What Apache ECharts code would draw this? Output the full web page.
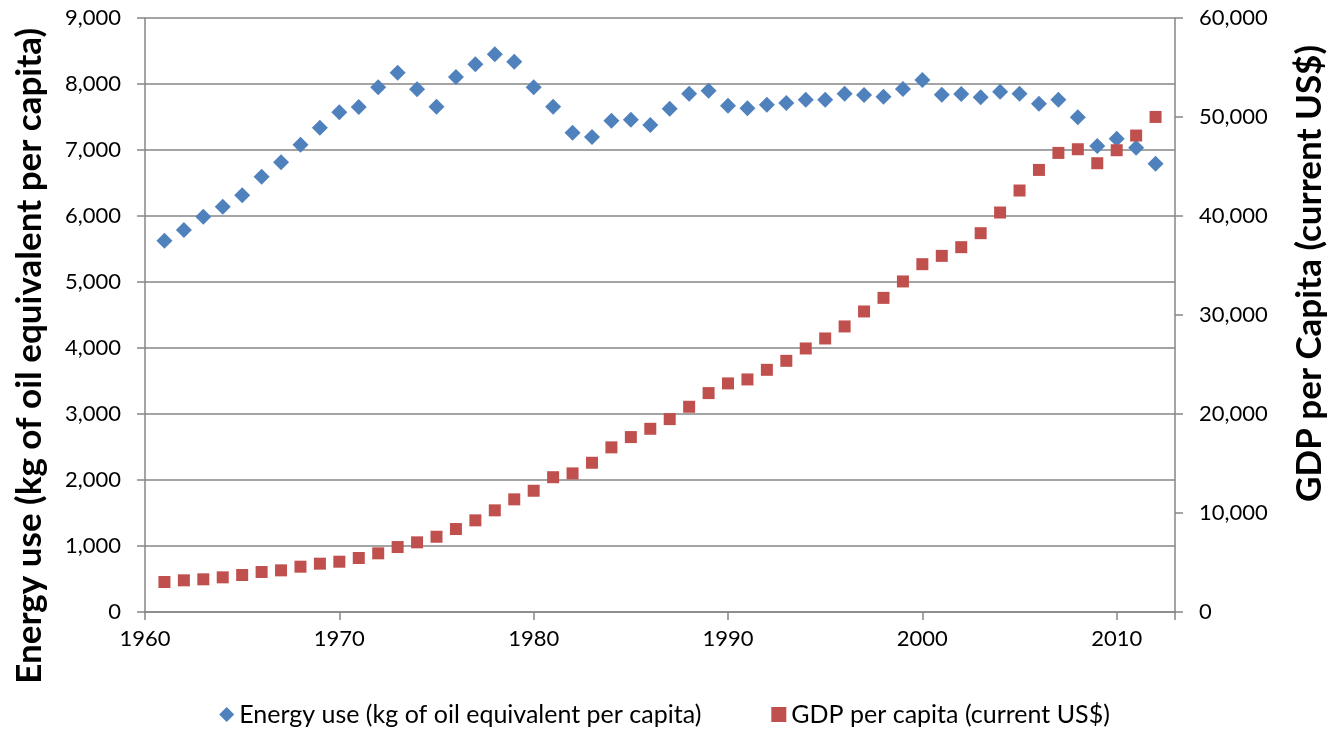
<!DOCTYPE html>
<html>
<head>
<meta charset="utf-8">
<script src="https://cdn.jsdelivr.net/npm/echarts@6/dist/echarts.min.js"></script>
<style>
  html, body { margin: 0; padding: 0; background: #fff; }
  #chart { width: 1329px; height: 734px; }
</style>
</head>
<body>
<div id="chart"></div>
<script>
const years = [1961, 1962, 1963, 1964, 1965, 1966, 1967, 1968, 1969, 1970,
  1971, 1972, 1973, 1974, 1975, 1976, 1977, 1978, 1979, 1980,
  1981, 1982, 1983, 1984, 1985, 1986, 1987, 1988, 1989, 1990,
  1991, 1992, 1993, 1994, 1995, 1996, 1997, 1998, 1999, 2000,
  2001, 2002, 2003, 2004, 2005, 2006, 2007, 2008, 2009, 2010,
  2011, 2012]

// kg of oil equivalent per capita
const energyUse = [5626, 5788, 5990, 6141, 6313, 6596, 6813, 7081, 7338, 7571,
  7652, 7949, 8172, 7919, 7657, 8106, 8298, 8449, 8338, 7949,
  7657, 7263, 7197, 7444, 7460, 7379, 7626, 7854, 7899, 7672,
  7631, 7687, 7712, 7763, 7763, 7854, 7833, 7808, 7924, 8061,
  7838, 7848, 7798, 7884, 7854, 7702, 7763, 7495, 7061, 7172,
  7035, 6793]

// current US$
const gdpPerCapita = [3029, 3200, 3300, 3500, 3735, 4038, 4207, 4577, 4880, 5080,
  5452, 5926, 6562, 7037, 7602, 8380, 9258, 10268, 11378, 12247,
  13615, 14000, 15075, 16630, 17668, 18506, 19485, 20730, 22110, 23090,
  23490, 24463, 25373, 26620, 27630, 28844, 30358, 31731, 33390, 35134,
  35972, 36850, 38264, 40353, 42574, 44655, 46372, 46744, 45331, 46643,
  48126, 50005]

const xTicks = [1960, 1970, 1980, 1990, 2000, 2010]

const energyName = 'Energy use (kg of oil equivalent per capita)'
const gdpName = 'GDP per capita (current US$)'

const fontFamily = 'Lato, "Open Sans", sans-serif'
const axisGray = '#868686'
const textColor = '#000000'

const fmt = function (v) {
  return v.toLocaleString('en-US')
}

const chart = echarts.init(document.getElementById('chart'))

chart.setOption({
  animation: false,
  textStyle: { fontFamily: fontFamily },
  grid: {
    left: 145,
    right: 154,
    top: 18,
    bottom: 122,
    containLabel: false
  },
  legend: {
    bottom: 2,
    left: 'center',
    itemGap: 70,
    itemWidth: 15,
    itemHeight: 15,
    textStyle: { fontSize: 25, color: textColor, fontFamily: fontFamily },
    data: [
      { name: energyName, icon: 'diamond' },
      { name: gdpName, icon: 'rect' }
    ]
  },
  xAxis: {
    type: 'value',
    min: 1960,
    max: 2013,
    interval: 10,
    splitLine: { show: false },
    axisLine: { onZero: false, lineStyle: { color: axisGray, width: 1.5 } },
    axisTick: { show: true, length: 8, lineStyle: { color: axisGray, width: 1.5 } },
    axisLabel: {
      fontSize: 22,
      color: textColor,
      margin: 16,
      formatter: function (v) {
        return xTicks.indexOf(v) >= 0 ? String(v) : ''
      }
    }
  },
  yAxis: [
    {
      type: 'value',
      min: 0,
      max: 9000,
      interval: 1000,
      axisLine: { show: true, lineStyle: { color: axisGray, width: 1.5 } },
      axisTick: { show: true, length: 8, lineStyle: { color: axisGray, width: 1.5 } },
      splitLine: { show: true, lineStyle: { color: axisGray, width: 1.5 } },
      axisLabel: { fontSize: 22, color: textColor, margin: 24, formatter: fmt }
    },
    {
      type: 'value',
      min: 0,
      max: 60000,
      interval: 10000,
      position: 'right',
      axisLine: { show: true, lineStyle: { color: axisGray, width: 1.5 } },
      axisTick: { show: true, length: 8, lineStyle: { color: axisGray, width: 1.5 } },
      splitLine: { show: false },
      axisLabel: { fontSize: 22, color: textColor, margin: 24, formatter: fmt }
    }
  ],
  graphic: [
    {
      type: 'text',
      left: 12,
      top: 28,
      rotation: Math.PI / 2,
      style: {
        text: 'Energy use (kg of oil equivalent per capita)',
        fontSize: 35,
        fontWeight: 'bold',
        fontFamily: fontFamily,
        fill: textColor
      }
    },
    {
      type: 'text',
      right: 2,
      top: 45,
      rotation: Math.PI / 2,
      style: {
        text: 'GDP per Capita (current US$)',
        fontSize: 35,
        fontWeight: 'bold',
        fontFamily: fontFamily,
        fill: textColor
      }
    }
  ],
  series: [
    {
      name: energyName,
      type: 'scatter',
      yAxisIndex: 0,
      symbol: 'diamond',
      symbolSize: 16,
      itemStyle: { color: '#4F81BD', opacity: 1 },
      data: years.map(function (y, i) { return [y, energyUse[i]] })
    },
    {
      name: gdpName,
      type: 'scatter',
      yAxisIndex: 1,
      symbol: 'rect',
      symbolSize: 12,
      itemStyle: { color: '#C0504D', opacity: 1 },
      data: years.map(function (y, i) { return [y, gdpPerCapita[i]] })
    }
  ]
})
</script>
</body>
</html>
